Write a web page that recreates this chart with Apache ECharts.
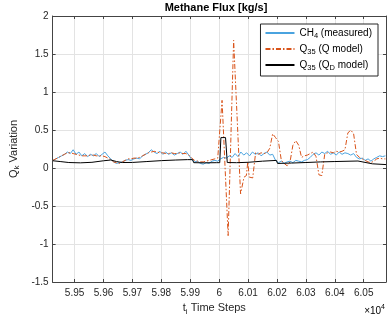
<!DOCTYPE html>
<html lang="en">
<head>
  <meta charset="UTF-8">
  <title>Methane Flux</title>
  <script src="https://cdn.jsdelivr.net/npm/echarts@6/dist/echarts.min.js"></script>
  <style>
    html, body { margin: 0; padding: 0; background: #fff; }
    #main { width: 390px; height: 321px; }
  </style>
</head>
<body>
  <div id="main"></div>
  <script>
    // time steps, one sample every 10 steps
    var steps = [
      59425,59435,59445,59455,59465,59475,59485,59495,59505,59515,
      59525,59535,59545,59555,59565,59575,59585,59595,59605,59615,
      59625,59635,59645,59655,59665,59675,59685,59695,59705,59715,
      59725,59735,59745,59755,59765,59775,59785,59795,59805,59815,
      59825,59835,59845,59855,59865,59875,59885,59895,59905,59915,
      59925,59935,59945,59955,59965,59975,59985,59995,60005,60015,
      60025,60035,60045,60055,60065,60075,60085,60095,60105,60115,
      60125,60135,60145,60155,60165,60175,60185,60195,60205,60215,
      60225,60235,60245,60255,60265,60275,60285,60295,60305,60315,
      60325,60335,60345,60355,60365,60375,60385,60395,60405,60415,
      60425,60435,60445,60455,60465,60475,60485,60495,60505,60515,
      60525,60535,60545,60555,60565,60575
    ]
    // CH4 measured
    var ch4 = [
      0.10,0.12,0.14,0.16,0.18,0.21,0.19,0.24,0.18,0.21,
      0.16,0.19,0.15,0.18,0.16,0.19,0.15,0.18,0.21,0.16,
      0.12,0.08,0.06,0.07,0.08,0.10,0.11,0.10,0.12,0.13,
      0.12,0.16,0.18,0.20,0.24,0.21,0.19,0.22,0.18,0.21,
      0.18,0.20,0.17,0.19,0.21,0.18,0.22,0.17,0.11,0.08,
      0.09,0.06,0.05,0.07,0.06,0.09,0.10,0.09,0.12,0.14,
      0.13,0.16,0.14,0.19,0.15,0.21,0.17,0.20,0.16,0.21,
      0.18,0.20,0.16,0.19,0.21,0.17,0.18,0.10,0.07,0.09,
      0.06,0.08,0.09,0.07,0.10,0.09,0.08,0.10,0.11,0.14,
      0.18,0.20,0.17,0.21,0.19,0.22,0.18,0.20,0.17,0.21,
      0.18,0.20,0.19,0.17,0.19,0.14,0.12,0.13,0.10,0.12,
      0.09,0.12,0.14,0.16,0.15,0.16
    ]
    // Q35 (Q model): before the burst on steps[0..57]
    var qBefore = [
      0.10,0.12,0.14,0.16,0.18,0.20,0.20,0.19,0.18,0.17,
      0.16,0.16,0.16,0.17,0.17,0.16,0.16,0.16,0.15,0.13,
      0.11,0.08,0.07,0.06,0.08,0.10,0.12,0.12,0.13,0.13,
      0.14,0.16,0.18,0.20,0.21,0.22,0.21,0.20,0.20,0.19,
      0.19,0.20,0.19,0.19,0.20,0.19,0.19,0.17,0.13,0.10,
      0.09,0.08,0.08,0.09,0.10,0.11,0.12,0.13
    ]
    // burst
    var qBurstSteps = [60010, 60031, 60050, 60074, 60086, 60094, 60099, 60104, 60116, 60126]
    var qBurst = [0.89, -0.89, 1.68, -0.34, -0.12, -0.10, 0.08, -0.12, -0.13, 0.20]
    // after the burst on steps[71..115]
    var qAfter = [
      0.18,0.20,0.19,0.20,0.26,0.45,0.40,0.35,0.10,
      0.06,0.03,0.08,0.30,0.36,0.30,0.14,0.16,0.17,0.19,
      0.21,0.15,-0.09,-0.10,0.18,0.20,0.21,0.20,0.22,0.21,
      0.22,0.24,0.46,0.50,0.45,0.18,0.14,0.12,0.10,0.08,
      0.07,0.09,0.12,0.13,0.12,0.12
    ]
    // Q35 (QD model)
    var qdSteps = [
      59425,59450,59480,59520,59560,59600,59625,59645,59665,59700,
      59750,59800,59850,59890,59908,59912,59950,59990,60002,60006,
      60022,60028,60060,60100,60150,60198,60202,60250,60300,60350,
      60400,60480,60484,60530,60577
    ]
    var qdModel = [
      0.095,0.085,0.072,0.068,0.075,0.095,0.105,0.085,0.072,0.073,
      0.085,0.097,0.105,0.110,0.110,0.070,0.068,0.070,0.070,0.400,
      0.400,0.072,0.070,0.075,0.090,0.100,0.060,0.065,0.072,0.080,
      0.085,0.092,0.070,0.055,0.045
    ]
    var xMin = 59424, xMax = 60577

    function zip(xs, ys) {
      return xs.map(function (x, i) { return [x, ys[i]] })
    }
    var qSteps = steps.slice(0, 58).concat(qBurstSteps, steps.slice(71))
    var qModel = qBefore.concat(qBurst, qAfter)

    var font = "'Liberation Sans', Arial, sans-serif"
    var axisColor = '#444'
    var legendLabels = {
      'CH4 (measured)': '{n|CH}{s|4}{n| (measured)}',
      'Q35 (Q model)': '{n|Q}{s|35}{n| (Q model)}',
      'Q35 (QD model)': '{n|Q}{s|35}{n| (Q}{s|D}{n| model)}'
    }
    var subRich = {
      n: { fontFamily: font, fontSize: 10, lineHeight: 14, color: '#000' },
      s: { fontFamily: font, fontSize: 7.5, lineHeight: 8, verticalAlign: 'bottom', color: '#000' }
    }

    var chart = echarts.init(document.getElementById('main'))
    var option = {
      animation: false,
      backgroundColor: '#fff',
      title: {
        text: 'Methane Flux [kg/s]',
        left: 216, top: 2, textAlign: 'center', padding: 0,
        textStyle: { fontFamily: font, fontSize: 11, fontWeight: 'bold', color: '#000' }
      },
      grid: { left: 47, right: 4, top: 16, bottom: 39 },
      legend: {
        orient: 'vertical', right: 12, top: 24,
        itemWidth: 29, itemHeight: 8, itemGap: 4,
        padding: [4, 6, 4, 4],
        borderColor: '#262626', borderWidth: 1, backgroundColor: '#fff',
        itemStyle: { opacity: 0 },
        textStyle: { fontFamily: font, fontSize: 10, color: '#000', rich: subRich },
        formatter: function (name) { return legendLabels[name] }
      },
      xAxis: [{
        type: 'value', min: xMin, max: xMax, minInterval: 100, maxInterval: 100,
        name: '{n|t}{s|i}{n| Time Steps}', nameLocation: 'middle', nameGap: 18,
        nameTextStyle: {
          padding: [0, 10, 0, 0],
          rich: {
            n: { fontFamily: font, fontSize: 11, lineHeight: 14, color: '#262626' },
            s: { fontFamily: font, fontSize: 8, lineHeight: 8, verticalAlign: 'bottom', color: '#262626' }
          }
        },
        axisLine: { onZero: false, lineStyle: { color: axisColor } },
        axisTick: { inside: true, length: 3, lineStyle: { color: axisColor } },
        axisLabel: {
          fontFamily: font, fontSize: 10, color: '#262626', margin: 6,
          showMinLabel: false, showMaxLabel: false,
          formatter: function (v) {
            if (Math.abs(v % 100) > 1e-6) return ''
            return String(+(v / 1e4).toFixed(2))
          }
        },
        splitLine: { show: true, lineStyle: { color: '#e3e3e3' } }
      }, {
        type: 'value', min: xMin, max: xMax, minInterval: 100, maxInterval: 100, position: 'top',
        axisLine: { onZero: false, lineStyle: { color: axisColor } },
        axisTick: { inside: true, length: 3, lineStyle: { color: axisColor } },
        axisLabel: { show: false },
        splitLine: { show: false }
      }],
      yAxis: [{
        type: 'value', min: -1.5, max: 2, interval: 0.5,
        name: '{n|Q}{s|k}{n| Variation}', nameLocation: 'middle', nameGap: 27,
        nameTextStyle: {
          rich: {
            n: { fontFamily: font, fontSize: 11, lineHeight: 14, color: '#262626' },
            s: { fontFamily: font, fontSize: 8, lineHeight: 8, verticalAlign: 'bottom', color: '#262626' }
          }
        },
        axisLine: { show: true, onZero: false, lineStyle: { color: axisColor } },
        axisTick: { show: true, inside: true, length: 3, lineStyle: { color: axisColor } },
        axisLabel: { fontFamily: font, fontSize: 10, color: '#262626', margin: 4 },
        splitLine: { show: true, lineStyle: { color: '#e3e3e3' } }
      }, {
        type: 'value', min: -1.5, max: 2, interval: 0.5, position: 'right',
        axisLine: { show: true, onZero: false, lineStyle: { color: axisColor } },
        axisTick: { show: true, inside: true, length: 3, lineStyle: { color: axisColor } },
        axisLabel: { show: false },
        splitLine: { show: false }
      }],
      series: [{
        name: 'CH4 (measured)', type: 'line', symbol: 'none',
        data: zip(steps, ch4),
        lineStyle: { color: '#4aa3df', width: 1 },
        itemStyle: { color: '#4aa3df' }
      }, {
        name: 'Q35 (Q model)', type: 'line', symbol: 'none',
        data: zip(qSteps, qModel),
        lineStyle: { color: '#D95319', width: 1, type: [5, 2, 1.5, 2] },
        itemStyle: { color: '#D95319' }
      }, {
        name: 'Q35 (QD model)', type: 'line', symbol: 'none',
        data: zip(qdSteps, qdModel),
        lineStyle: { color: '#000', width: 1 },
        itemStyle: { color: '#000' }
      }],
      graphic: [{
        type: 'text', right: 5, top: 304,
        style: {
          text: '{n|×10}{p|4}',
          rich: {
            n: { fontFamily: font, fontSize: 10, lineHeight: 14, color: '#262626' },
            p: { fontFamily: font, fontSize: 7, lineHeight: 8, verticalAlign: 'top', color: '#262626' }
          }
        }
      }]
    }
    chart.setOption(option)
  </script>
</body>
</html>
